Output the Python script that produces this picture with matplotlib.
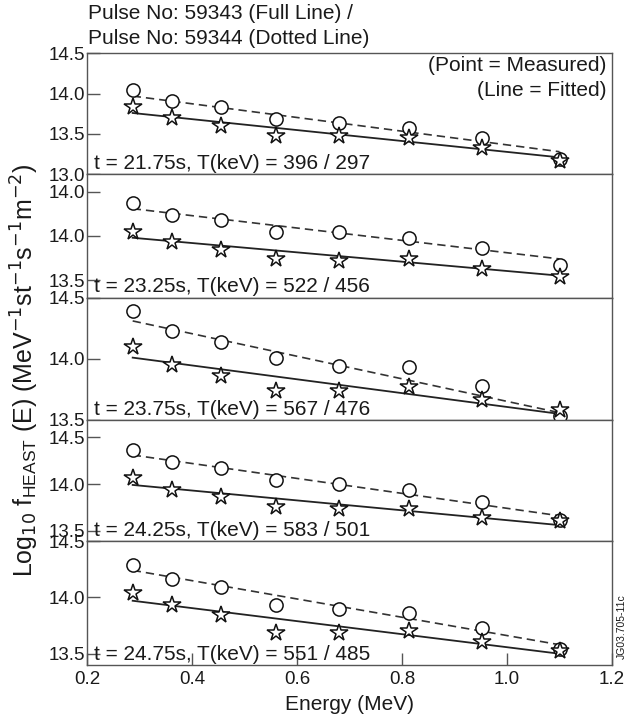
import matplotlib
matplotlib.use("Agg")
import matplotlib.pyplot as plt
import numpy as np

plt.rcParams['font.family'] = ['Liberation Sans', 'DejaVu Sans']

# energies of the measured points (MeV)
energy = [0.287, 0.362, 0.455, 0.56, 0.68, 0.814, 0.953, 1.10]

times = ["21.75", "23.25", "23.75", "24.25", "24.75"]
temps = ["396 / 297", "522 / 456", "567 / 476", "583 / 501", "551 / 485"]

# Pulse 59343 (stars, full line)
meas_59343 = [
    [13.83, 13.70, 13.60, 13.48, 13.48, 13.45, 13.33, 13.17],
    [14.05, 13.93, 13.84, 13.74, 13.72, 13.74, 13.63, 13.53],
    [14.10, 13.95, 13.86, 13.74, 13.74, 13.77, 13.66, 13.58],
    [14.06, 13.94, 13.86, 13.75, 13.73, 13.73, 13.64, 13.60],
    [14.04, 13.93, 13.84, 13.68, 13.68, 13.70, 13.60, 13.52],
]
# Pulse 59344 (circles, dotted line)
meas_59344 = [
    [14.04, 13.91, 13.83, 13.68, 13.64, 13.57, 13.45, 13.19],
    [14.37, 14.24, 14.18, 14.05, 14.04, 13.98, 13.86, 13.67],
    [14.39, 14.23, 14.14, 14.01, 13.94, 13.93, 13.78, 13.53],
    [14.36, 14.24, 14.17, 14.04, 14.00, 13.94, 13.81, 13.62],
    [14.29, 14.16, 14.09, 13.93, 13.90, 13.86, 13.73, 13.54],
]
# fitted lines, value at first and last energy
fit_59343 = [(13.76, 13.21), (13.98, 13.55), (14.01, 13.55), (13.99, 13.56), (13.97, 13.50)]
fit_59344 = [(13.97, 13.28), (14.31, 13.74), (14.31, 13.56), (14.31, 13.66), (14.24, 13.58)]

# axis ranges and tick labels per panel (as printed on the original)
ylims = [(13.0, 14.5), (13.30, 14.70), (13.5, 14.5), (13.39, 14.685), (13.4, 14.5)]
yticks = [[13.0, 13.5, 14.0, 14.5], [13.5, 14.0, 14.5], [13.5, 14.0, 14.5],
          [13.5, 14.0, 14.5], [13.5, 14.0, 14.5]]
ytick_labels = [["13.0", "13.5", "14.0", "14.5"], ["13.5", "14.0", "14.0"],
                ["13.5", "14.0", "14.5"], ["13.5", "14.0", "14.5"],
                ["13.5", "14.0", "14.5"]]

W, H = 631, 722
fig = plt.figure(figsize=(W / 100, H / 100), dpi=100)

# panel edges in pixels from top
edges = [53.3, 174.3, 297.7, 420, 541, 665]
left, right = 87, 612
spine_col = "#555555"
ink = "#1a1a1a"
fs = 15
tick_fs = 13.5

axes = []
for i in range(5):
    top, bot = edges[i], edges[i + 1]
    ax = fig.add_axes([left / W, 1 - bot / H, (right - left) / W, (bot - top) / H])
    axes.append(ax)
    ax.set_xlim(0.2, 1.2)
    ax.set_ylim(*ylims[i])
    ax.set_yticks(yticks[i])
    ax.set_yticklabels(ytick_labels[i])
    for s in ax.spines.values():
        s.set_color(spine_col)
        s.set_linewidth(1.0)
    ax.tick_params(axis='y', direction='in', length=9, width=1.0, color=spine_col,
                   labelsize=tick_fs, labelcolor=ink, pad=1)
    ax.tick_params(axis='x', direction='in', length=9, width=1.0, color=spine_col,
                   labelsize=tick_fs, labelcolor=ink, pad=4)
    if i < 4:
        ax.tick_params(axis='x', bottom=False, labelbottom=False)
    else:
        ax.set_xticks([0.2, 0.4, 0.6, 0.8, 1.0, 1.2])
        ax.set_xticklabels(["0.2", "0.4", "0.6", "0.8", "1.0", "1.2"])

    e0, e1 = energy[0], energy[-1]
    ax.plot([e0, e1], fit_59344[i], color="#333333", lw=1.2, ls=(0, (5, 3)), zorder=2)
    ax.plot([e0, e1], fit_59343[i], color="#222222", lw=1.3, ls='-', zorder=2)
    ax.plot(energy, meas_59344[i], ls='none', marker='o', ms=9.5, mfc='white',
            mec='#111111', mew=1.1, zorder=3)
    ax.plot(energy, meas_59343[i], ls='none', marker='*', ms=13, mfc='white',
            mec='#111111', mew=1.1, zorder=4)

    ax.annotate(f"t = {times[i]}s, T(keV) = {temps[i]}", xy=(0, 0),
                xycoords='axes fraction', xytext=(5, 1), textcoords='offset points',
                ha='left', va='bottom', fontsize=fs, color=ink)

axes[0].text(0.99, 0.90, "(Point = Measured)", transform=axes[0].transAxes,
             ha='right', va='center', fontsize=fs, color=ink)
axes[0].text(0.99, 0.69, "(Line = Fitted)", transform=axes[0].transAxes,
             ha='right', va='center', fontsize=fs, color=ink)

fig.text(88 / W, 1 - 13.5 / H, "Pulse No: 59343 (Full Line) /", ha='left', va='center',
         fontsize=fs, color=ink)
fig.text(88 / W, 1 - 39 / H, "Pulse No: 59344 (Dotted Line)", ha='left', va='center',
         fontsize=fs, color=ink)

fig.text(25 / W, 1 - 370 / H,
         r"Log$_{10}$ f$_{\mathregular{HEAST}}$ (E) (MeV$^{-1}$st$^{-1}$s$^{-1}$m$^{-2}$)",
         rotation=90, ha='center', va='center', fontsize=18, color=ink)
fig.text(349 / W, 1 - 705 / H, "Energy (MeV)", ha='center', va='center',
         fontsize=fs, color=ink)
fig.text(622 / W, 1 - 627 / H, "JG03.705-11c", rotation=90, ha='center', va='center',
         fontsize=7.5, color=ink)

fig.savefig("out.png", dpi=100)
